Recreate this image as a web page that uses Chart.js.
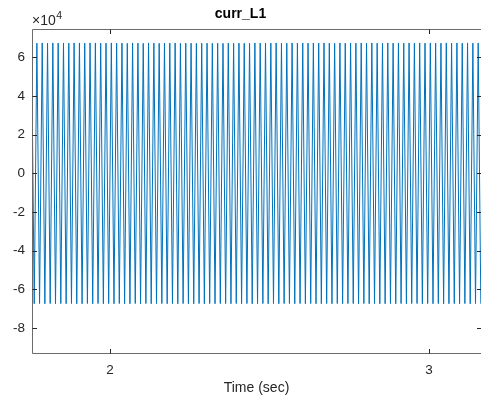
<!DOCTYPE html>
<html>
<head>
<meta charset="utf-8">
<script src="https://cdn.jsdelivr.net/npm/chart.js@4/dist/chart.umd.min.js"></script>
<style>
html,body{margin:0;padding:0;background:#fff;}
#c{display:block;}
</style>
</head>
<body>
<canvas id="c" width="481" height="401"></canvas>
<script>
// ---- data ----
const peakTimes = [
1.7542,1.7708,1.7875,1.8042,1.8208,1.8375,
1.8542,1.8708,1.8875,1.9042,1.9208,1.9375,
1.9542,1.9708,1.9875,2.0042,2.0208,2.0375,
2.0542,2.0708,2.0875,2.1042,2.1208,2.1375,
2.1542,2.1708,2.1875,2.2042,2.2208,2.2375,
2.2542,2.2708,2.2875,2.3042,2.3208,2.3375,
2.3542,2.3708,2.3875,2.4042,2.4208,2.4375,
2.4542,2.4708,2.4875,2.5042,2.5208,2.5375,
2.5542,2.5708,2.5875,2.6042,2.6208,2.6375,
2.6542,2.6708,2.6875,2.7042,2.7208,2.7375,
2.7542,2.7708,2.7875,2.8042,2.8208,2.8375,
2.8542,2.8708,2.8875,2.9042,2.9208,2.9375,
2.9542,2.9708,2.9875,3.0042,3.0208,3.0375,
3.0542,3.0708,3.0875,3.1042,3.1208,3.1375,
3.1542];
const peakValues = [
67300,67200,67300,67200,67300,67200,
67300,67200,67300,67300,67200,67300,
67300,67200,67200,67300,67200,67200,
67100,67300,67200,67100,67300,67200,
67100,67200,67200,67300,67100,67200,
67200,67100,67200,67200,67100,67200,
67100,67200,67100,67200,67100,67100,
67300,67200,67300,67200,67300,67200,
67200,67300,67200,67300,67200,67300,
67200,67300,67200,67100,67300,67200,
67300,67200,67300,67200,67300,67200,
67200,67300,67200,67300,67200,67300,
67200,67300,67200,67300,67200,67200,
67300,67200,67300,67200,67300,67200,
67300];
const troughTimes = [
1.7625,1.7792,1.7958,1.8125,1.8292,1.8458,
1.8625,1.8792,1.8958,1.9125,1.9292,1.9458,
1.9625,1.9792,1.9958,2.0125,2.0292,2.0458,
2.0625,2.0792,2.0958,2.1125,2.1292,2.1458,
2.1625,2.1792,2.1958,2.2125,2.2292,2.2458,
2.2625,2.2792,2.2958,2.3125,2.3292,2.3458,
2.3625,2.3792,2.3958,2.4125,2.4292,2.4458,
2.4625,2.4792,2.4958,2.5125,2.5292,2.5458,
2.5625,2.5792,2.5958,2.6125,2.6292,2.6458,
2.6625,2.6792,2.6958,2.7125,2.7292,2.7458,
2.7625,2.7792,2.7958,2.8125,2.8292,2.8458,
2.8625,2.8792,2.8958,2.9125,2.9292,2.9458,
2.9625,2.9792,2.9958,3.0125,3.0292,3.0458,
3.0625,3.0792,3.0958,3.1125,3.1292,3.1458,
3.1625];
const troughValues = [
-67400,-67300,-67400,-67300,-67400,-67300,
-67400,-67300,-67400,-67400,-67300,-67400,
-67300,-67400,-67300,-67400,-67300,-67400,
-67400,-67300,-67400,-67300,-67400,-67300,
-67300,-67400,-67300,-67400,-67300,-67400,
-67400,-67300,-67400,-67300,-67400,-67300,
-67300,-67400,-67300,-67400,-67300,-67400,
-67400,-67300,-67400,-67300,-67400,-67300,
-67300,-67400,-67300,-67400,-67300,-67400,
-67400,-67300,-67400,-67300,-67400,-67300,
-67300,-67400,-67300,-67400,-67300,-67400,
-67400,-67300,-67400,-67300,-67400,-67300,
-67300,-67400,-67300,-67400,-67300,-67400,
-67400,-67300,-67400,-67300,-67400,-67300,
-67400];
const xTicks = [2, 3];
const yTicks = [6, 4, 2, 0, -2, -4, -6, -8];   // in units of 10^4
const yExponent = 4;
const xRange = [1.7555, 3.163];
const yRange = [-9.31e4, 7.45e4];

// ---- build point table ----
const points = [];
for (let i = 0; i < peakTimes.length; i++) {
  points.push({x: peakTimes[i], y: peakValues[i]});
  if (i < troughTimes.length) points.push({x: troughTimes[i], y: troughValues[i]});
}

const FONT = '"Liberation Sans", Arial, Helvetica, sans-serif';
const AXC = '#262626';

const boxPlugin = {
  id: 'matlabBox',
  afterDraw(chart) {
    const ctx = chart.ctx, a = chart.chartArea;
    const xs = chart.scales.x, ys = chart.scales.y;
    const L = Math.floor(a.left) + 0.5, R = a.right + 0.5;
    const T = Math.floor(a.top) + 0.5, B = Math.floor(a.bottom) + 0.5;
    ctx.save();
    ctx.strokeStyle = '#6b6b6b';
    ctx.lineWidth = 1;
    ctx.beginPath();
    ctx.moveTo(R, B); ctx.lineTo(L, B); ctx.lineTo(L, T); ctx.lineTo(R, T);
    ctx.stroke();
    ctx.strokeStyle = AXC;
    ctx.beginPath();
    const tl = 4.5;
    xTicks.forEach(v => {
      const px = Math.round(xs.getPixelForValue(v)) + 0.5;
      ctx.moveTo(px, B); ctx.lineTo(px, B - tl);
      ctx.moveTo(px, T); ctx.lineTo(px, T + tl);
    });
    yTicks.forEach(v => {
      const py = Math.round(ys.getPixelForValue(v * Math.pow(10, yExponent))) + 0.5;
      ctx.moveTo(L, py); ctx.lineTo(L + tl, py);
      ctx.moveTo(R, py); ctx.lineTo(R - tl, py);
    });
    ctx.stroke();
    // exponent label
    ctx.fillStyle = AXC;
    ctx.textBaseline = 'alphabetic';
    ctx.textAlign = 'left';
    ctx.font = '14px ' + FONT;
    ctx.fillText('\u00d710', a.left, 25);
    const w = ctx.measureText('\u00d710').width;
    ctx.font = '10.5px ' + FONT;
    ctx.fillText(String(yExponent), a.left + w + 0.5, 19);
    ctx.restore();
  }
};

new Chart(document.getElementById('c'), {
  type: 'line',
  data: {
    datasets: [{
      data: points,
      borderColor: '#0072BD',
      borderWidth: 1,
      pointRadius: 0,
      tension: 0,
      fill: false
    }]
  },
  options: {
    responsive: false,
    animation: false,
    devicePixelRatio: 1,
    layout: {padding: 0},
    plugins: {
      legend: {display: false},
      tooltip: {enabled: false},
      title: {
        display: true,
        text: 'curr_L1',
        color: '#000',
        font: {family: FONT, size: 14, weight: 'bold'},
        padding: {top: 6, bottom: 6.2}
      }
    },
    scales: {
      x: {
        type: 'linear',
        min: xRange[0], max: xRange[1],
        grid: {display: false, drawTicks: false},
        border: {display: false},
        afterBuildTicks: s => { s.ticks = xTicks.map(v => ({value: v})); },
        afterFit: s => { s.height = 47.5; },
        ticks: {
          color: AXC,
          font: {family: FONT, size: 13.5},
          padding: 9,
          maxRotation: 0,
          callback: v => String(v)
        },
        title: {
          display: true,
          text: 'Time (sec)',
          color: AXC,
          font: {family: FONT, size: 14},
          padding: {top: 4, bottom: 4}
        }
      },
      y: {
        type: 'linear',
        min: yRange[0], max: yRange[1],
        grid: {display: false, drawTicks: false},
        border: {display: false},
        afterBuildTicks: s => { s.ticks = yTicks.map(v => ({value: v * Math.pow(10, yExponent)})); },
        afterFit: s => { s.width = 32; },
        ticks: {
          color: AXC,
          font: {family: FONT, size: 13.5},
          padding: 7,
          callback: v => String(Math.round(v / Math.pow(10, yExponent)))
        }
      }
    }
  },
  plugins: [boxPlugin]
});
</script>
</body>
</html>
